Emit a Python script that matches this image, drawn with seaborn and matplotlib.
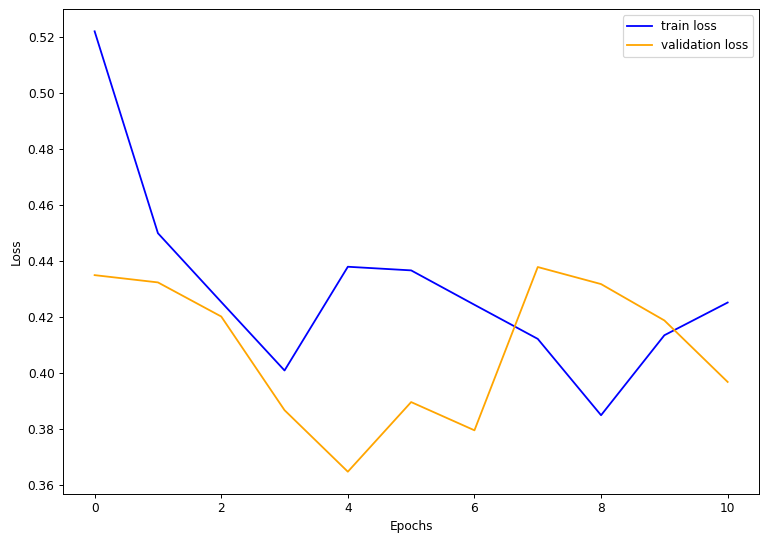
import numpy as np
import pandas as pd
import matplotlib
matplotlib.use("Agg")
import matplotlib.pyplot as plt
import seaborn as sns

# loss values read per epoch
epochs = list(range(11))
train_loss = [0.5221, 0.4499, 0.4253, 0.4008, 0.4379, 0.4366, 0.4243, 0.4121, 0.3848, 0.4134, 0.4251]
val_loss = [0.4349, 0.4323, 0.4201, 0.3866, 0.3646, 0.3895, 0.3794, 0.4378, 0.4317, 0.4187, 0.3967]

df = pd.DataFrame({"epoch": epochs, "train": train_loss, "val": val_loss})

# reference looks like a slightly downscaled render, so use a lower dpi
dpi = 87
fig, ax = plt.subplots(figsize=(768 / dpi, 541 / dpi), dpi=dpi)
fig.subplots_adjust(left=0.082, right=0.9887, top=0.9828, bottom=0.0874)

sns.lineplot(data=df, x="epoch", y="train", color="blue", label="train loss", ax=ax)
sns.lineplot(data=df, x="epoch", y="val", color="orange", label="validation loss", ax=ax)

ax.set_xlabel("Epochs")
ax.set_ylabel("Loss")
ax.legend(loc="upper right")

plt.savefig("out.png", dpi=dpi)
plt.close()
